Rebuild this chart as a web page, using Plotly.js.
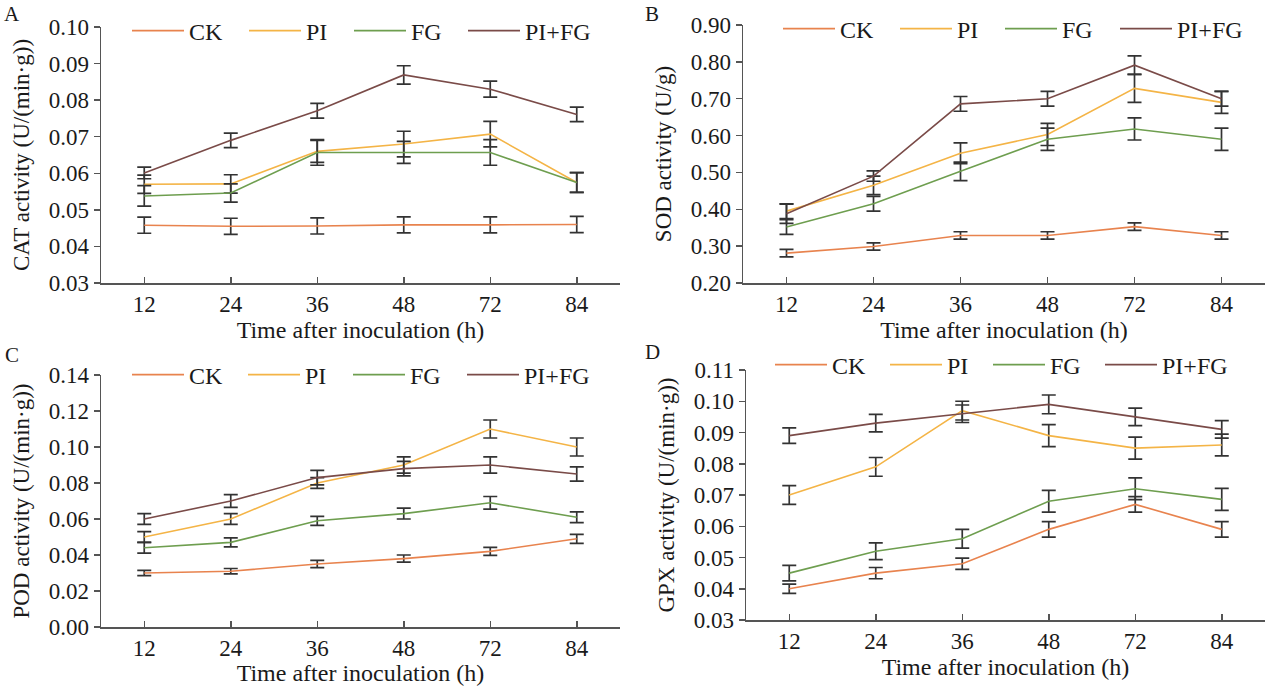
<!DOCTYPE html>
<html>
<head>
<meta charset="utf-8">
<script src="https://cdn.plot.ly/plotly-3.0.1.min.js"></script>
<style>html,body{margin:0;padding:0;background:#fff;}#chart{width:1267px;height:686px;}</style>
</head>
<body>
<div id="chart"></div>
<script>
const hours = ['12', '24', '36', '48', '72', '84'];
const seriesNames = ['CK', 'PI', 'FG', 'PI+FG'];
const seriesColors = ['#E8834E', '#F4B446', '#6E9E4F', '#7A4B48'];

// A: CAT activity
const catCK = [0.0458, 0.0455, 0.0456, 0.0459, 0.0459, 0.0460];
const catPI = [0.0570, 0.0571, 0.0660, 0.0680, 0.0707, 0.0575];
const catFG = [0.0538, 0.0546, 0.0657, 0.0657, 0.0657, 0.0575];
const catPIFG = [0.0601, 0.0690, 0.0771, 0.0869, 0.0830, 0.0761];
const catCKerr = [0.0022, 0.0022, 0.0022, 0.0022, 0.0022, 0.0022];
const catPIerr = [0.0025, 0.0025, 0.0030, 0.0035, 0.0035, 0.0027];
const catFGerr = [0.0028, 0.0025, 0.0035, 0.0030, 0.0035, 0.0027];
const catPIFGerr = [0.0016, 0.0020, 0.0020, 0.0025, 0.0022, 0.0020];

// B: SOD activity
const sodCK = [0.281, 0.299, 0.329, 0.329, 0.353, 0.329];
const sodPI = [0.395, 0.465, 0.552, 0.603, 0.728, 0.690];
const sodFG = [0.352, 0.415, 0.503, 0.590, 0.618, 0.590];
const sodPIFG = [0.388, 0.490, 0.686, 0.700, 0.791, 0.700];
const sodCKerr = [0.010, 0.010, 0.010, 0.010, 0.010, 0.010];
const sodPIerr = [0.020, 0.025, 0.028, 0.030, 0.038, 0.030];
const sodFGerr = [0.020, 0.020, 0.025, 0.030, 0.030, 0.030];
const sodPIFGerr = [0.026, 0.014, 0.020, 0.020, 0.025, 0.020];

// C: POD activity
const podCK = [0.030, 0.031, 0.035, 0.038, 0.042, 0.049];
const podPI = [0.050, 0.060, 0.080, 0.090, 0.110, 0.100];
const podFG = [0.044, 0.047, 0.059, 0.063, 0.069, 0.061];
const podPIFG = [0.060, 0.070, 0.083, 0.088, 0.090, 0.085];
const podCKerr = [0.0015, 0.0015, 0.0020, 0.0020, 0.0022, 0.0025];
const podPIerr = [0.0030, 0.0030, 0.0030, 0.0045, 0.0050, 0.0050];
const podFGerr = [0.0030, 0.0025, 0.0025, 0.0030, 0.0035, 0.0030];
const podPIFGerr = [0.0030, 0.0035, 0.0040, 0.0040, 0.0045, 0.0040];

// D: GPX activity
const gpxCK = [0.040, 0.045, 0.048, 0.059, 0.067, 0.059];
const gpxPI = [0.070, 0.079, 0.097, 0.089, 0.085, 0.086];
const gpxFG = [0.045, 0.052, 0.056, 0.068, 0.072, 0.0686];
const gpxPIFG = [0.089, 0.093, 0.096, 0.099, 0.095, 0.091];
const gpxCKerr = [0.0015, 0.0018, 0.0018, 0.0025, 0.0025, 0.0025];
const gpxPIerr = [0.0030, 0.0030, 0.0030, 0.0035, 0.0035, 0.0035];
const gpxFGerr = [0.0025, 0.0027, 0.0030, 0.0035, 0.0035, 0.0035];
const gpxPIFGerr = [0.0025, 0.0028, 0.0028, 0.0030, 0.0028, 0.0028];

const panels = [
  {vals: [catCK, catPI, catFG, catPIFG], errs: [catCKerr, catPIerr, catFGerr, catPIFGerr]},
  {vals: [sodCK, sodPI, sodFG, sodPIFG], errs: [sodCKerr, sodPIerr, sodFGerr, sodPIFGerr]},
  {vals: [podCK, podPI, podFG, podPIFG], errs: [podCKerr, podPIerr, podFGerr, podPIFGerr]},
  {vals: [gpxCK, gpxPI, gpxFG, gpxPIFG], errs: [gpxCKerr, gpxPIerr, gpxFGerr, gpxPIFGerr]}
];

const W = 1267, H = 686;
const px = v => v / W;
const py = v => 1 - v / H;
// plot boxes: [left, right, top, bottom] in pixels
const boxes = [
  [101, 620, 27, 283],
  [743, 1265, 25, 283],
  [101, 620, 375, 627],
  [746, 1265, 370, 620]
];
const yTitles = ['CAT activity (U/(min·g))', 'SOD activity (U/g)', 'POD activity (U/(min·g))', 'GPX activity (U/(min·g))'];
const yRanges = [[0.03, 0.10], [0.20, 0.90], [0.00, 0.14], [0.03, 0.11]];
const yDticks = [0.01, 0.1, 0.02, 0.01];
const letters = ['A', 'B', 'C', 'D'];
const letterPos = [[12, 14], [652, 14], [12, 355], [652, 352]];
// legend entry line starts (px) and text centre row (px) per panel
const legendStarts = [[132, 249, 354, 468], [783, 900, 1005, 1120], [132, 248, 353, 467], [775, 890, 993, 1105]];
const legendRows = [31, 29, 375, 365];

const FONT = '"Liberation Serif", "Times New Roman", serif';
const INK = '#1a1a1a';
const traces = [];
const layout = {
  width: W, height: H,
  margin: {l: 0, r: 0, t: 0, b: 0, autoexpand: false},
  paper_bgcolor: '#ffffff', plot_bgcolor: '#ffffff',
  font: {family: FONT, size: 23, color: INK},
  showlegend: true,
  annotations: []
};

let legendCount = 0;
panels.forEach((p, i) => {
  const n = i + 1;
  const xa = n === 1 ? 'x' : 'x' + n;
  const ya = n === 1 ? 'y' : 'y' + n;
  p.vals.forEach((v, k) => {
    legendCount += 1;
    const lg = legendCount === 1 ? 'legend' : 'legend' + legendCount;
    traces.push({
      type: 'scatter', mode: 'lines',
      x: hours, y: v,
      name: seriesNames[k],
      xaxis: xa, yaxis: ya, legend: lg,
      line: {color: seriesColors[k], width: 1.6},
      error_y: {type: 'data', array: p.errs[k], visible: true, color: '#333333', thickness: 1.7, width: 7}
    });
    layout[lg] = {
      orientation: 'h',
      x: px(legendStarts[i][k] - 5), xanchor: 'left',
      y: py(legendRows[i]), yanchor: 'middle',
      bgcolor: 'rgba(0,0,0,0)', borderwidth: 0,
      font: {family: FONT, size: 24, color: INK},
      itemwidth: 52
    };
  });
  const b = boxes[i];
  layout[(n === 1 ? 'xaxis' : 'xaxis' + n)] = {
    domain: [px(b[0]), px(b[1])],
    anchor: ya,
    type: 'category', categoryorder: 'array', categoryarray: hours,
    range: [-0.5, 5.5],
    showline: true, linecolor: '#555555', linewidth: 1.5,
    ticks: 'inside', ticklen: 6, tickwidth: 1.5, tickcolor: '#555555',
    showgrid: false, zeroline: false,
    tickfont: {family: FONT, size: 23, color: INK},
    title: {text: 'Time after inoculation (h)', font: {family: FONT, size: 24, color: INK}, standoff: 4},
    automargin: false, fixedrange: true
  };
  layout[(n === 1 ? 'yaxis' : 'yaxis' + n)] = {
    domain: [py(b[3]), py(b[2])],
    anchor: xa,
    range: yRanges[i], dtick: yDticks[i], tick0: 0, tickformat: '.2f',
    showline: true, linecolor: '#555555', linewidth: 1.5,
    ticks: 'outside', ticklen: 6, tickwidth: 1.5, tickcolor: '#555555',
    showgrid: false, zeroline: false,
    tickfont: {family: FONT, size: 23, color: INK},
    title: {text: yTitles[i], font: {family: FONT, size: 23, color: INK}, standoff: 12},
    automargin: false, fixedrange: true
  };
  layout.annotations.push({
    text: letters[i], xref: 'paper', yref: 'paper',
    x: px(letterPos[i][0]), y: py(letterPos[i][1]), xanchor: 'center', yanchor: 'middle',
    showarrow: false, font: {family: FONT, size: 21, color: INK}
  });
});

Plotly.newPlot('chart', traces, layout, {displayModeBar: false, staticPlot: true});
</script>
</body>
</html>
